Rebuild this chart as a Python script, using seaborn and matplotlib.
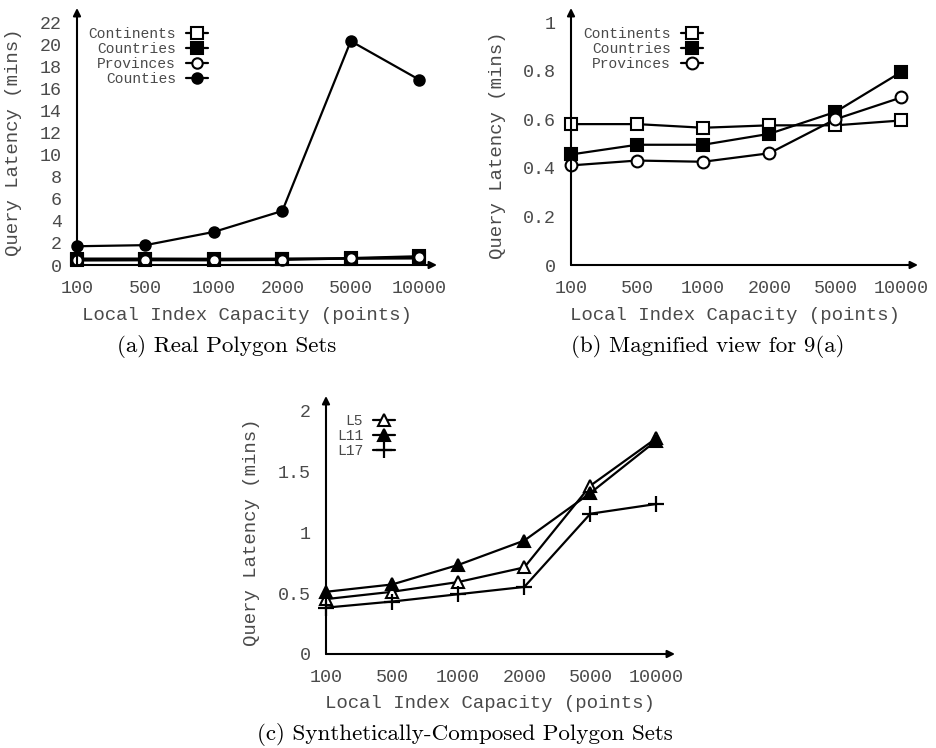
import matplotlib
matplotlib.use("Agg")
import matplotlib.pyplot as plt
import seaborn as sns
import numpy as np

sns.set_theme(style="white")
plt.rcParams["font.family"] = ["Liberation Mono", "DejaVu Sans Mono"]

# Local index capacity (points) on the x axis
capacities = ["100", "500", "1000", "2000", "5000", "10000"]

# Query latency (mins) for the real polygon sets
continents = [0.58, 0.58, 0.565, 0.575, 0.575, 0.595]
countries = [0.455, 0.495, 0.495, 0.54, 0.63, 0.795]
provinces = [0.41, 0.43, 0.425, 0.46, 0.60, 0.69]
counties = [1.7, 1.8, 3.0, 4.9, 20.3, 16.8]

# Query latency (mins) for the synthetically-composed polygon sets
l5 = [0.45, 0.51, 0.59, 0.71, 1.38, 1.77]
l11 = [0.51, 0.57, 0.73, 0.93, 1.32, 1.75]
l17 = [0.38, 0.43, 0.49, 0.55, 1.15, 1.23]

yticks_a = [0, 2, 4, 6, 8, 10, 12, 14, 16, 18, 20, 22]
yticks_b = [0, 0.2, 0.4, 0.6, 0.8, 1]
yticks_c = [0, 0.5, 1, 1.5, 2]

W, H = 936, 748
fig = plt.figure(figsize=(W / 100, H / 100), dpi=100)

GREY = "#4a4a4a"
TICK_FS = 13.2
LEG_FS = 10.5


def px_axes(left, right, top, bottom):
    return fig.add_axes([left / W, 1 - bottom / H, (right - left) / W, (bottom - top) / H])


def draw_series(ax, values, label, marker, filled, ms=7.5):
    x = np.arange(len(values))
    kws = dict(color="black", linewidth=1.6, marker=marker, markersize=ms,
               markeredgecolor="black", markeredgewidth=1.5,
               markerfacecolor="black" if filled else "white", clip_on=False)
    if marker == "+":
        kws["markersize"] = ms + 4
        kws["markeredgewidth"] = 1.6
    sns.lineplot(x=x, y=values, ax=ax, label=label, **kws)


def style_axes(ax, xmax, ymax, yticks, ytick_labels):
    ax.set_xlim(0, xmax)
    ax.set_ylim(0, ymax)
    for s in ax.spines.values():
        s.set_visible(False)
    ax.set_xticks(np.arange(len(capacities)))
    ax.set_xticklabels(capacities)
    ax.set_yticks(yticks)
    ax.set_yticklabels(ytick_labels)
    ax.tick_params(axis="both", length=0, labelsize=TICK_FS, labelcolor=GREY)
    ax.tick_params(axis="x", pad=11)
    ax.tick_params(axis="y", pad=11)
    ax.set_xlabel("")
    ax.set_ylabel("")
    arrow = dict(arrowstyle="-|>", color="black", lw=1.5, mutation_scale=11,
                 shrinkA=0, shrinkB=0)
    ax.annotate("", xy=(1, 0), xytext=(0, 0), xycoords="axes fraction", arrowprops=arrow)
    ax.annotate("", xy=(0, 1), xytext=(0, 0), xycoords="axes fraction", arrowprops=arrow)
    ax.grid(False)


def legend(ax, right_frac, top_frac):
    ax.legend(loc="upper right", bbox_to_anchor=(right_frac, top_frac), frameon=False,
              markerfirst=False, fontsize=LEG_FS, handlelength=1.5, handletextpad=0.7,
              labelspacing=0.08, borderpad=0, borderaxespad=0,
              labelcolor=GREY)


# (a) Real polygon sets
ax_a = px_axes(77, 437, 8, 265)
draw_series(ax_a, continents, "Continents", "s", False, 8)
draw_series(ax_a, countries, "Countries", "s", True, 8)
draw_series(ax_a, provinces, "Provinces", "o", False, 7.5)
draw_series(ax_a, counties, "Counties", "o", True, 7.5)
style_axes(ax_a, 5.26, 23.3, yticks_a, [str(v) for v in yticks_a])
legend(ax_a, 0.364, 0.927)

# (b) Magnified view
ax_b = px_axes(571, 918, 8, 265)
draw_series(ax_b, continents, "Continents", "s", False, 8.5)
draw_series(ax_b, countries, "Countries", "s", True, 8.5)
draw_series(ax_b, provinces, "Provinces", "o", False, 8.5)
style_axes(ax_b, 5.25, 1.058, yticks_b, ["0", "0.2", "0.4", "0.6", "0.8", "1"])
legend(ax_b, 0.380, 0.927)

# (c) Synthetically-composed polygon sets
ax_c = px_axes(326, 675, 396, 654)
draw_series(ax_c, l5, "L5", "^", False, 8.5)
draw_series(ax_c, l11, "L11", "^", True, 8)
draw_series(ax_c, l17, "L17", "+", False, 8)
style_axes(ax_c, 5.28, 2.115, yticks_c, ["0", "0.5", "1", "1.5", "2"])
legend(ax_c, 0.198, 0.93)

# Axis titles
ylab = dict(rotation=90, ha="center", va="center", fontsize=13.7, color=GREY)
xlab = dict(ha="center", va="center", fontsize=13.7, color=GREY)
fig.text(14 / W, 1 - 142 / H, "Query Latency (mins)", **ylab)
fig.text(497 / W, 1 - 145 / H, "Query Latency (mins)", **ylab)
fig.text(251 / W, 1 - 532 / H, "Query Latency (mins)", **ylab)
fig.text(247 / W, 1 - 315 / H, "Local Index Capacity (points)", **xlab)
fig.text(735 / W, 1 - 316 / H, "Local Index Capacity (points)", **xlab)
fig.text(490 / W, 1 - 703 / H, "Local Index Capacity (points)", **xlab)

# Sub-figure captions
cap = dict(ha="center", va="center", fontsize=16.6, family="cmr10", color="black")
fig.text(227 / W, 1 - 347 / H, "(a) Real Polygon Sets", **cap)
fig.text(708 / W, 1 - 347 / H, "(b) Magnified view for 9(a)", **cap)
fig.text(465 / W, 1 - 735 / H, "(c) Synthetically-Composed Polygon Sets", **cap)

fig.savefig("out.png", dpi=100)
